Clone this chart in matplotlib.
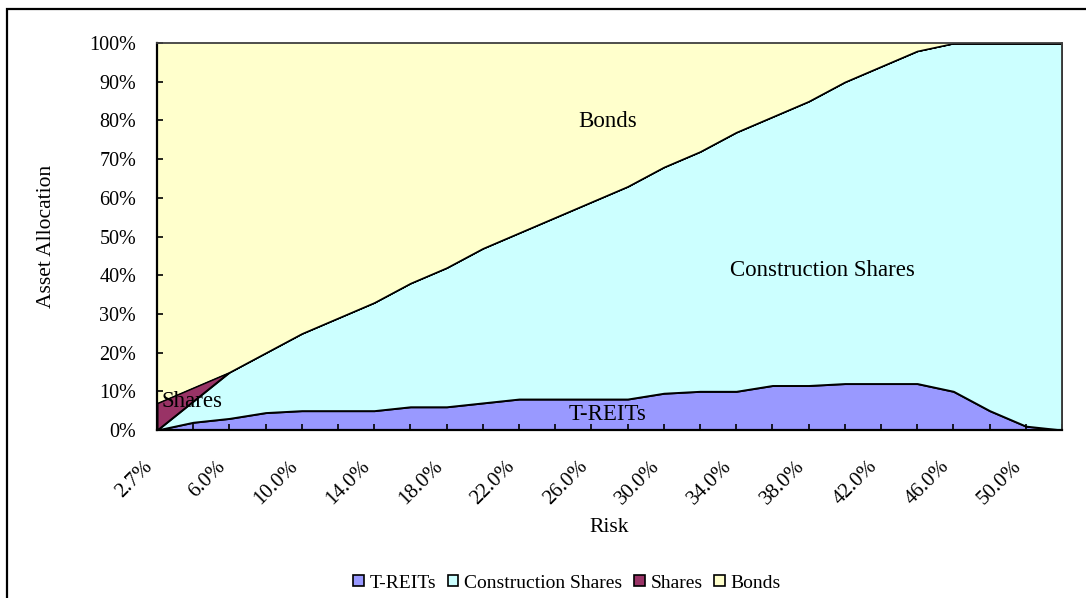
import matplotlib
matplotlib.use("Agg")
import matplotlib.pyplot as plt
import matplotlib.patches as patches
from matplotlib.transforms import ScaledTranslation
import numpy as np

plt.rcParams['font.family'] = ['Liberation Serif', 'DejaVu Serif']

# risk levels (x categories) and the allocation of each asset, in percent
risk = [2.7, 4, 6, 8, 10, 12, 14, 16, 18, 20, 22, 24, 26, 28, 30,
        32, 34, 36, 38, 40, 42, 44, 46, 48, 50, 52]
treits = [0, 2, 3, 4.5, 5, 5, 5, 6, 6, 7, 8, 8, 8, 8, 9.5,
          10, 10, 11.5, 11.5, 12, 12, 12, 10, 5, 1, 0]
construction = [0, 5.5, 12, 15.5, 20, 24, 28, 32, 36, 40, 43, 47, 51, 55, 58.5,
                62, 67, 69.5, 73.5, 78, 82, 86, 90, 95, 99, 100]
shares = [7, 3.5, 0, 0, 0, 0, 0, 0, 0, 0, 0, 0, 0, 0, 0,
          0, 0, 0, 0, 0, 0, 0, 0, 0, 0, 0]
bonds = [93, 89, 85, 80, 75, 71, 67, 62, 58, 53, 49, 45, 41, 37, 32,
         28, 23, 19, 15, 10, 6, 2, 0, 0, 0, 0]

names = ["T-REITs", "Construction Shares", "Shares", "Bonds"]
colors = ["#9999FF", "#CCFFFF", "#993366", "#FFFFCC"]

fig = plt.figure(figsize=(10.86, 5.98), dpi=100)
ax = fig.add_axes([157/1086, 1 - 430/598, 905/1086, 387/598])

x = np.arange(len(risk))
polys = ax.stackplot(x, treits, construction, shares, bonds,
                     colors=colors, edgecolor="black", linewidth=1.4)
polys[3].set_edgecolor("none")

ax.set_xlim(0, len(risk) - 1)
ax.set_ylim(0, 100)

# axis styling: inward ticks, every second category labelled
ax.set_xticks(x)
xlabels = [f"{v:.1f}%" if i % 2 == 0 else "" for i, v in enumerate(risk)]
ax.set_xticklabels(xlabels, rotation=45, ha="right", va="top", fontsize=15)
shift = ScaledTranslation(-9/100, 0, fig.dpi_scale_trans)
for lab in ax.get_xticklabels():
    lab.set_transform(lab.get_transform() + shift)
ax.set_yticks(np.arange(0, 101, 10))
ax.set_yticklabels([f"{v}%" for v in range(0, 101, 10)], fontsize=14.5)
ax.tick_params(axis="x", direction="in", length=4, width=1.2, pad=19.5)
ax.tick_params(axis="y", direction="in", length=4.5, width=1.2, pad=15)

for side in ["left", "bottom"]:
    ax.spines[side].set_linewidth(1.6)
    ax.spines[side].set_color("black")
for side in ["top", "right"]:
    ax.spines[side].set_linewidth(1.3)
    ax.spines[side].set_color("#404040")

ax.set_xlabel("Risk", fontsize=15.5)
ax.set_ylabel("Asset Allocation", fontsize=15.5)
ax.xaxis.set_label_coords(0.5, -0.228)
ax.yaxis.set_label_coords(-0.112, 0.5)

# series names written inside the areas
ax.text(12.46, 79.8, "Bonds", fontsize=16.5, ha="center", va="center")
ax.text(18.38, 41.1, "Construction Shares", fontsize=16.5, ha="center", va="center")
ax.text(12.45, 3.9, "T-REITs", fontsize=16.5, ha="center", va="center")
ax.text(0.98, 7.3, "Shares", fontsize=16.5, ha="center", va="center")

handles = [patches.Patch(facecolor=c, edgecolor="black", linewidth=1.2) for c in colors]
fig.legend(handles, names, loc="center", bbox_to_anchor=(567/1086, 1 - 583/598),
           ncol=4, frameon=False, fontsize=14,
           handlelength=0.55, handleheight=0.55, handletextpad=0.3,
           columnspacing=0.6, borderpad=0)

# chart area border
border = patches.Rectangle((7/1086, -0.05), 1.1, 1 - 9/598 + 0.05,
                           transform=fig.transFigure, fill=False,
                           edgecolor="black", linewidth=1.6)
fig.patches.append(border)

fig.savefig("out.png", dpi=100)
